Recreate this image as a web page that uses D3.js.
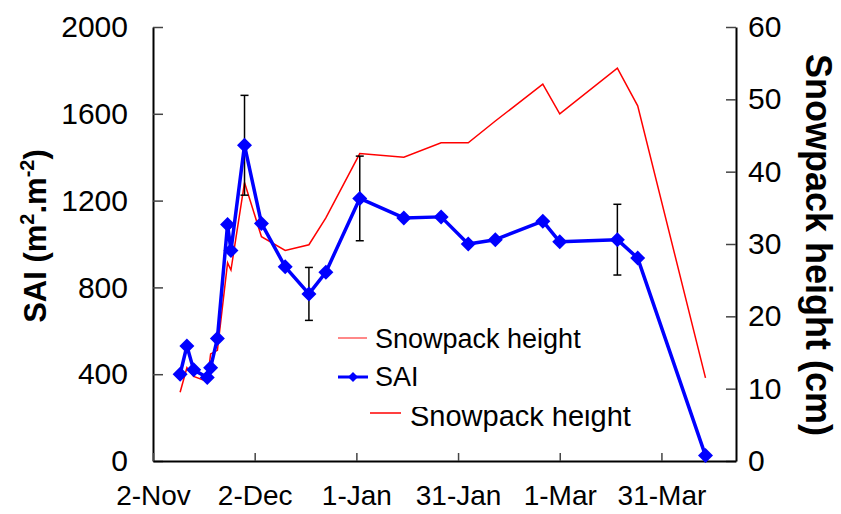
<!DOCTYPE html>
<html><head><meta charset="utf-8">
<script src="https://cdn.jsdelivr.net/npm/d3@7"></script>
<style>body{margin:0;background:#fff}text{font-family:"Liberation Sans",Arial,sans-serif;fill:#000}</style>
</head><body>
<svg id="c" width="841" height="514"></svg>
<script>
// ---- data ----
const dates = ["2007-11-10","2007-11-12","2007-11-14","2007-11-18","2007-11-19","2007-11-21","2007-11-24","2007-11-25","2007-11-29","2007-12-04","2007-12-11","2007-12-18","2007-12-23","2008-01-02","2008-01-15","2008-01-26","2008-02-03","2008-02-11","2008-02-25","2008-03-01","2008-03-18","2008-03-24","2008-04-13"];
const sai = [400,530,420,385,430,565,1090,970,1455,1095,895,770,870,1210,1120,1125,1000,1020,1105,1010,1020,935,25];
const saiErr = [0,0,0,0,0,0,0,0,230,0,0,122,0,195,0,0,0,0,0,0,163,0,0];
const snow = [9.5,12.9,11.7,11.0,14.8,15.3,27.4,26.4,38.5,31.0,29.1,29.9,33.6,42.5,42.0,44.0,44.0,47.0,52.1,48.0,54.3,49.1,11.5];
const xTickDates = ["2007-11-02","2007-12-02","2008-01-01","2008-01-31","2008-03-01","2008-03-31"];
const xTickLabels = ["2-Nov","2-Dec","1-Jan","31-Jan","1-Mar","31-Mar"];
const xDomain = ["2007-11-02","2008-04-22"];
const leftTicks = [0,400,800,1200,1600,2000];
const rightTicks = [0,10,20,30,40,50,60];

// ---- layout ----
const L = 153, R = 736, T = 27, B = 461;
const parse = d3.utcParse("%Y-%m-%d");
const svg = d3.select("#c");
const x = d3.scaleUtc().domain(xDomain.map(parse)).range([L, R]);
const yL = d3.scaleLinear().domain([0, 2000]).range([B, T]);
const yR = d3.scaleLinear().domain([0, 60]).range([B, T]);

const pts = dates.map((d, i) => ({d: parse(d), s: sai[i], e: saiErr[i], h: snow[i]}));

// axes
const axL = svg.append("g").attr("transform", `translate(${L},0)`)
  .call(d3.axisLeft(yL).tickValues(leftTicks).tickFormat(d3.format("d")).tickSizeInner(-10).tickSizeOuter(0).tickPadding(25));
const axR = svg.append("g").attr("transform", `translate(${R},0)`)
  .call(d3.axisRight(yR).tickValues(rightTicks).tickFormat(d3.format("d")).tickSizeInner(-10).tickSizeOuter(0).tickPadding(12));
const axB = svg.append("g").attr("transform", `translate(0,${B})`)
  .call(d3.axisBottom(x).tickValues(xTickDates.map(parse)).tickFormat((d, i) => xTickLabels[i]).tickSizeInner(-8).tickSizeOuter(0).tickPadding(24));
[axL, axR, axB].forEach(a => {
  a.select(".domain").attr("stroke", "#000").attr("stroke-width", 2);
  a.selectAll(".tick line").attr("stroke", "#444").attr("stroke-width", 1.5);
  a.selectAll(".tick text").attr("font-family", null).attr("fill", "#000");
});
axL.selectAll(".tick text").style("font-size", "30px");
axR.selectAll(".tick text").style("font-size", "30px");
axB.selectAll(".tick text").style("font-size", "28px").attr("dy", "0.71em");

// axis titles
svg.append("text").attr("transform", "translate(46,236) rotate(-90)").attr("text-anchor", "middle")
  .style("font-size", "31px").style("font-weight", "bold")
  .html('SAI (m<tspan dy="-12" style="font-size:20px">2</tspan><tspan dy="12">.m</tspan><tspan dy="-12" style="font-size:20px">-2</tspan><tspan dy="12">)</tspan>');
svg.append("text").attr("transform", "translate(806,245) rotate(90)").attr("text-anchor", "middle")
  .style("font-size", "36px").style("font-weight", "bold").text("Snowpack height (cm)");

// snowpack line
svg.append("path").datum(pts).attr("fill", "none").attr("stroke", "#ff0000").attr("stroke-width", 1.5)
  .attr("d", d3.line().x(p => x(p.d)).y(p => yR(p.h)));

// error bars
const eb = svg.append("g").attr("stroke", "#000").attr("stroke-width", 1.5);
pts.filter(p => p.e > 0).forEach(p => {
  const cx = x(p.d);
  eb.append("line").attr("x1", cx).attr("x2", cx).attr("y1", yL(p.s + p.e)).attr("y2", yL(p.s - p.e));
  eb.append("line").attr("x1", cx - 4).attr("x2", cx + 4).attr("y1", yL(p.s + p.e)).attr("y2", yL(p.s + p.e));
  eb.append("line").attr("x1", cx - 4).attr("x2", cx + 4).attr("y1", yL(p.s - p.e)).attr("y2", yL(p.s - p.e));
});

// SAI line + diamonds
svg.append("path").datum(pts).attr("fill", "none").attr("stroke", "#0000ff").attr("stroke-width", 3.5)
  .attr("stroke-linejoin", "round")
  .attr("d", d3.line().x(p => x(p.d)).y(p => yL(p.s)));
const dia = r => `M0,${-r}L${r},0L0,${r}L${-r},0Z`;
svg.append("g").selectAll("path").data(pts).join("path")
  .attr("d", dia(7.5)).attr("fill", "#0000ff")
  .attr("transform", p => `translate(${x(p.d)},${yL(p.s)})`);

// legend
const lg = svg.append("g");
lg.append("line").attr("x1", 338).attr("x2", 367).attr("y1", 338).attr("y2", 338).attr("stroke", "#ff6060").attr("stroke-width", 1.5);
lg.append("text").attr("x", 375).attr("y", 348).style("font-size", "27px").text("Snowpack height");
lg.append("line").attr("x1", 338).attr("x2", 368).attr("y1", 377).attr("y2", 377).attr("stroke", "#0000ff").attr("stroke-width", 3);
lg.append("path").attr("d", dia(5)).attr("fill", "#0000ff").attr("transform", "translate(353,377)");
lg.append("text").attr("x", 375).attr("y", 386).style("font-size", "27px").text("SAI");
lg.append("line").attr("x1", 370).attr("x2", 401).attr("y1", 413).attr("y2", 413).attr("stroke", "#ff0000").attr("stroke-width", 1.5);
svg.append("clipPath").attr("id", "lgclip").append("rect").attr("x", 400).attr("y", 407).attr("width", 260).attr("height", 40);
lg.append("text").attr("x", 410).attr("y", 426).attr("clip-path", "url(#lgclip)").style("font-size", "29px").text("Snowpack height");
</script>
</body></html>
